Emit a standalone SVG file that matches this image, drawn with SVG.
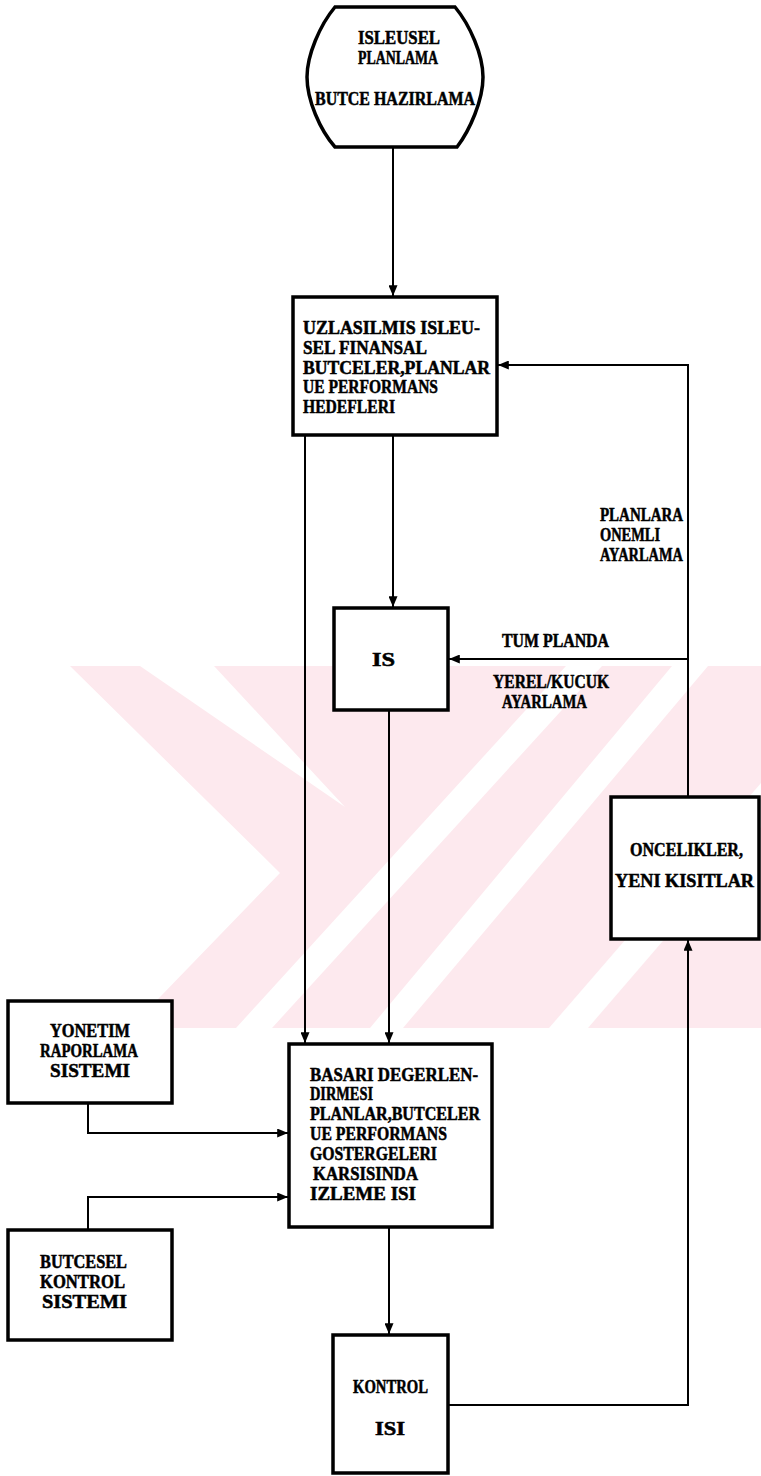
<svg xmlns="http://www.w3.org/2000/svg" width="761" height="1476" viewBox="0 0 761 1476">
<style>
.box{fill:#fff;stroke:#000;stroke-width:3.5}
.ln{fill:none;stroke:#000;stroke-width:2}
.t{font-family:"Liberation Serif","Times New Roman",serif;font-weight:bold;font-size:18px;fill:#000;stroke:#000;stroke-width:0.5}
.wm{fill:#fde9ee}
.gap{fill:#fff}
</style>
<defs>
<marker id="ah" viewBox="0 0 12 10" refX="12" refY="5" markerWidth="12" markerHeight="9" markerUnits="userSpaceOnUse" orient="auto"><path d="M0,0 L12,5 L0,10 z" fill="#000"/></marker>
</defs>
<rect width="761" height="1476" fill="#fff"/>
<g id="watermark">
<polygon class="wm" points="70,666 761,666 761,1028 130,1028 280,873"/>
<polygon class="gap" points="140,666 214,666 345,807"/>
<polygon class="gap" points="236,1028 272,1028 602,666 566,666"/>
<polygon class="gap" points="370,1028 403,1028 708,666 672,666"/>
<polygon class="gap" points="549,1028 588,1028 761,827 761,783"/>
</g>
<g id="connectors">
<path class="ln" d="M393,147 V296" marker-end="url(#ah)"/>
<path class="ln" d="M393,435 V607" marker-end="url(#ah)"/>
<path class="ln" d="M305,435 V1043" marker-end="url(#ah)"/>
<path class="ln" d="M389,710 V1043" marker-end="url(#ah)"/>
<path class="ln" d="M688,797 V365 H498" marker-end="url(#ah)"/>
<path class="ln" d="M688,659 H449" marker-end="url(#ah)"/>
<path class="ln" d="M88,1103 V1133 H288" marker-end="url(#ah)"/>
<path class="ln" d="M88,1230 V1197 H288" marker-end="url(#ah)"/>
<path class="ln" d="M389,1227 V1334" marker-end="url(#ah)"/>
<path class="ln" d="M448,1405 H688 V940" marker-end="url(#ah)"/>
</g>
<g id="labels">
<text class="t" x="502" y="647" textLength="107" lengthAdjust="spacingAndGlyphs">TUM PLANDA</text>
<text class="t" x="493" y="688" textLength="116" lengthAdjust="spacingAndGlyphs">YEREL/KUCUK</text>
<text class="t" x="502" y="708" textLength="85" lengthAdjust="spacingAndGlyphs">AYARLAMA</text>
<text class="t" x="600" y="521" textLength="83" lengthAdjust="spacingAndGlyphs">PLANLARA</text>
<text class="t" x="600" y="541" textLength="60" lengthAdjust="spacingAndGlyphs">ONEMLI</text>
<text class="t" x="600" y="561" textLength="83" lengthAdjust="spacingAndGlyphs">AYARLAMA</text>
</g>
<g id="n-start">
<path class="box" stroke-width="3" d="M335,7 H455 C470,25 483,55 483,77 C483,100 470,130 457,147 H335 C320,130 307,100 307,77 C307,55 320,25 335,7 Z"/>
<text class="t" x="358" y="44" textLength="82" lengthAdjust="spacingAndGlyphs">ISLEUSEL</text>
<text class="t" x="358" y="64" textLength="80" lengthAdjust="spacingAndGlyphs">PLANLAMA</text>
<text class="t" x="315" y="105" textLength="160" lengthAdjust="spacingAndGlyphs">BUTCE HAZIRLAMA</text>
</g>
<g id="n-plans">
<rect class="box" x="293" y="297" width="204" height="138"/>
<text class="t" x="303" y="334" textLength="177" lengthAdjust="spacingAndGlyphs">UZLASILMIS ISLEU-</text>
<text class="t" x="303" y="354" textLength="124" lengthAdjust="spacingAndGlyphs">SEL FINANSAL</text>
<text class="t" x="303" y="373.5" textLength="187" lengthAdjust="spacingAndGlyphs">BUTCELER,PLANLAR</text>
<text class="t" x="303" y="393" textLength="135" lengthAdjust="spacingAndGlyphs">UE PERFORMANS</text>
<text class="t" x="303" y="413" textLength="92" lengthAdjust="spacingAndGlyphs">HEDEFLERI</text>
</g>
<g id="n-is">
<rect class="box" x="334" y="608" width="114" height="102"/>
<text class="t" x="372" y="666" textLength="23" lengthAdjust="spacingAndGlyphs">IS</text>
</g>
<g id="n-oncelikler">
<rect class="box" x="611" y="797" width="148" height="142"/>
<text class="t" x="630" y="856" textLength="113" lengthAdjust="spacingAndGlyphs">ONCELIKLER,</text>
<text class="t" x="615" y="887" textLength="139" lengthAdjust="spacingAndGlyphs">YENI KISITLAR</text>
</g>
<g id="n-yonetim">
<rect class="box" x="8" y="1001" width="164" height="102"/>
<text class="t" x="50" y="1037" textLength="80" lengthAdjust="spacingAndGlyphs">YONETIM</text>
<text class="t" x="40" y="1057" textLength="98" lengthAdjust="spacingAndGlyphs">RAPORLAMA</text>
<text class="t" x="50" y="1077" textLength="80" lengthAdjust="spacingAndGlyphs">SISTEMI</text>
</g>
<g id="n-basari">
<rect class="box" x="289" y="1044" width="203" height="183"/>
<text class="t" x="310" y="1081" textLength="168" lengthAdjust="spacingAndGlyphs">BASARI DEGERLEN-</text>
<text class="t" x="310" y="1100" textLength="63" lengthAdjust="spacingAndGlyphs">DIRMESI</text>
<text class="t" x="310" y="1120" textLength="170" lengthAdjust="spacingAndGlyphs">PLANLAR,BUTCELER</text>
<text class="t" x="310" y="1140" textLength="137" lengthAdjust="spacingAndGlyphs">UE PERFORMANS</text>
<text class="t" x="310" y="1160" textLength="127" lengthAdjust="spacingAndGlyphs">GOSTERGELERI</text>
<text class="t" x="313" y="1180" textLength="105" lengthAdjust="spacingAndGlyphs">KARSISINDA</text>
<text class="t" x="310" y="1200" textLength="106" lengthAdjust="spacingAndGlyphs">IZLEME ISI</text>
</g>
<g id="n-butcesel">
<rect class="box" x="8" y="1230" width="164" height="110"/>
<text class="t" x="40" y="1268" textLength="87" lengthAdjust="spacingAndGlyphs">BUTCESEL</text>
<text class="t" x="40" y="1288" textLength="85" lengthAdjust="spacingAndGlyphs">KONTROL</text>
<text class="t" x="42" y="1308" textLength="85" lengthAdjust="spacingAndGlyphs">SISTEMI</text>
</g>
<g id="n-kontrol">
<rect class="box" x="333" y="1335" width="115" height="138"/>
<text class="t" x="353" y="1393" textLength="75" lengthAdjust="spacingAndGlyphs">KONTROL</text>
<text class="t" x="375" y="1435" textLength="30" lengthAdjust="spacingAndGlyphs">ISI</text>
</g>
</svg>
